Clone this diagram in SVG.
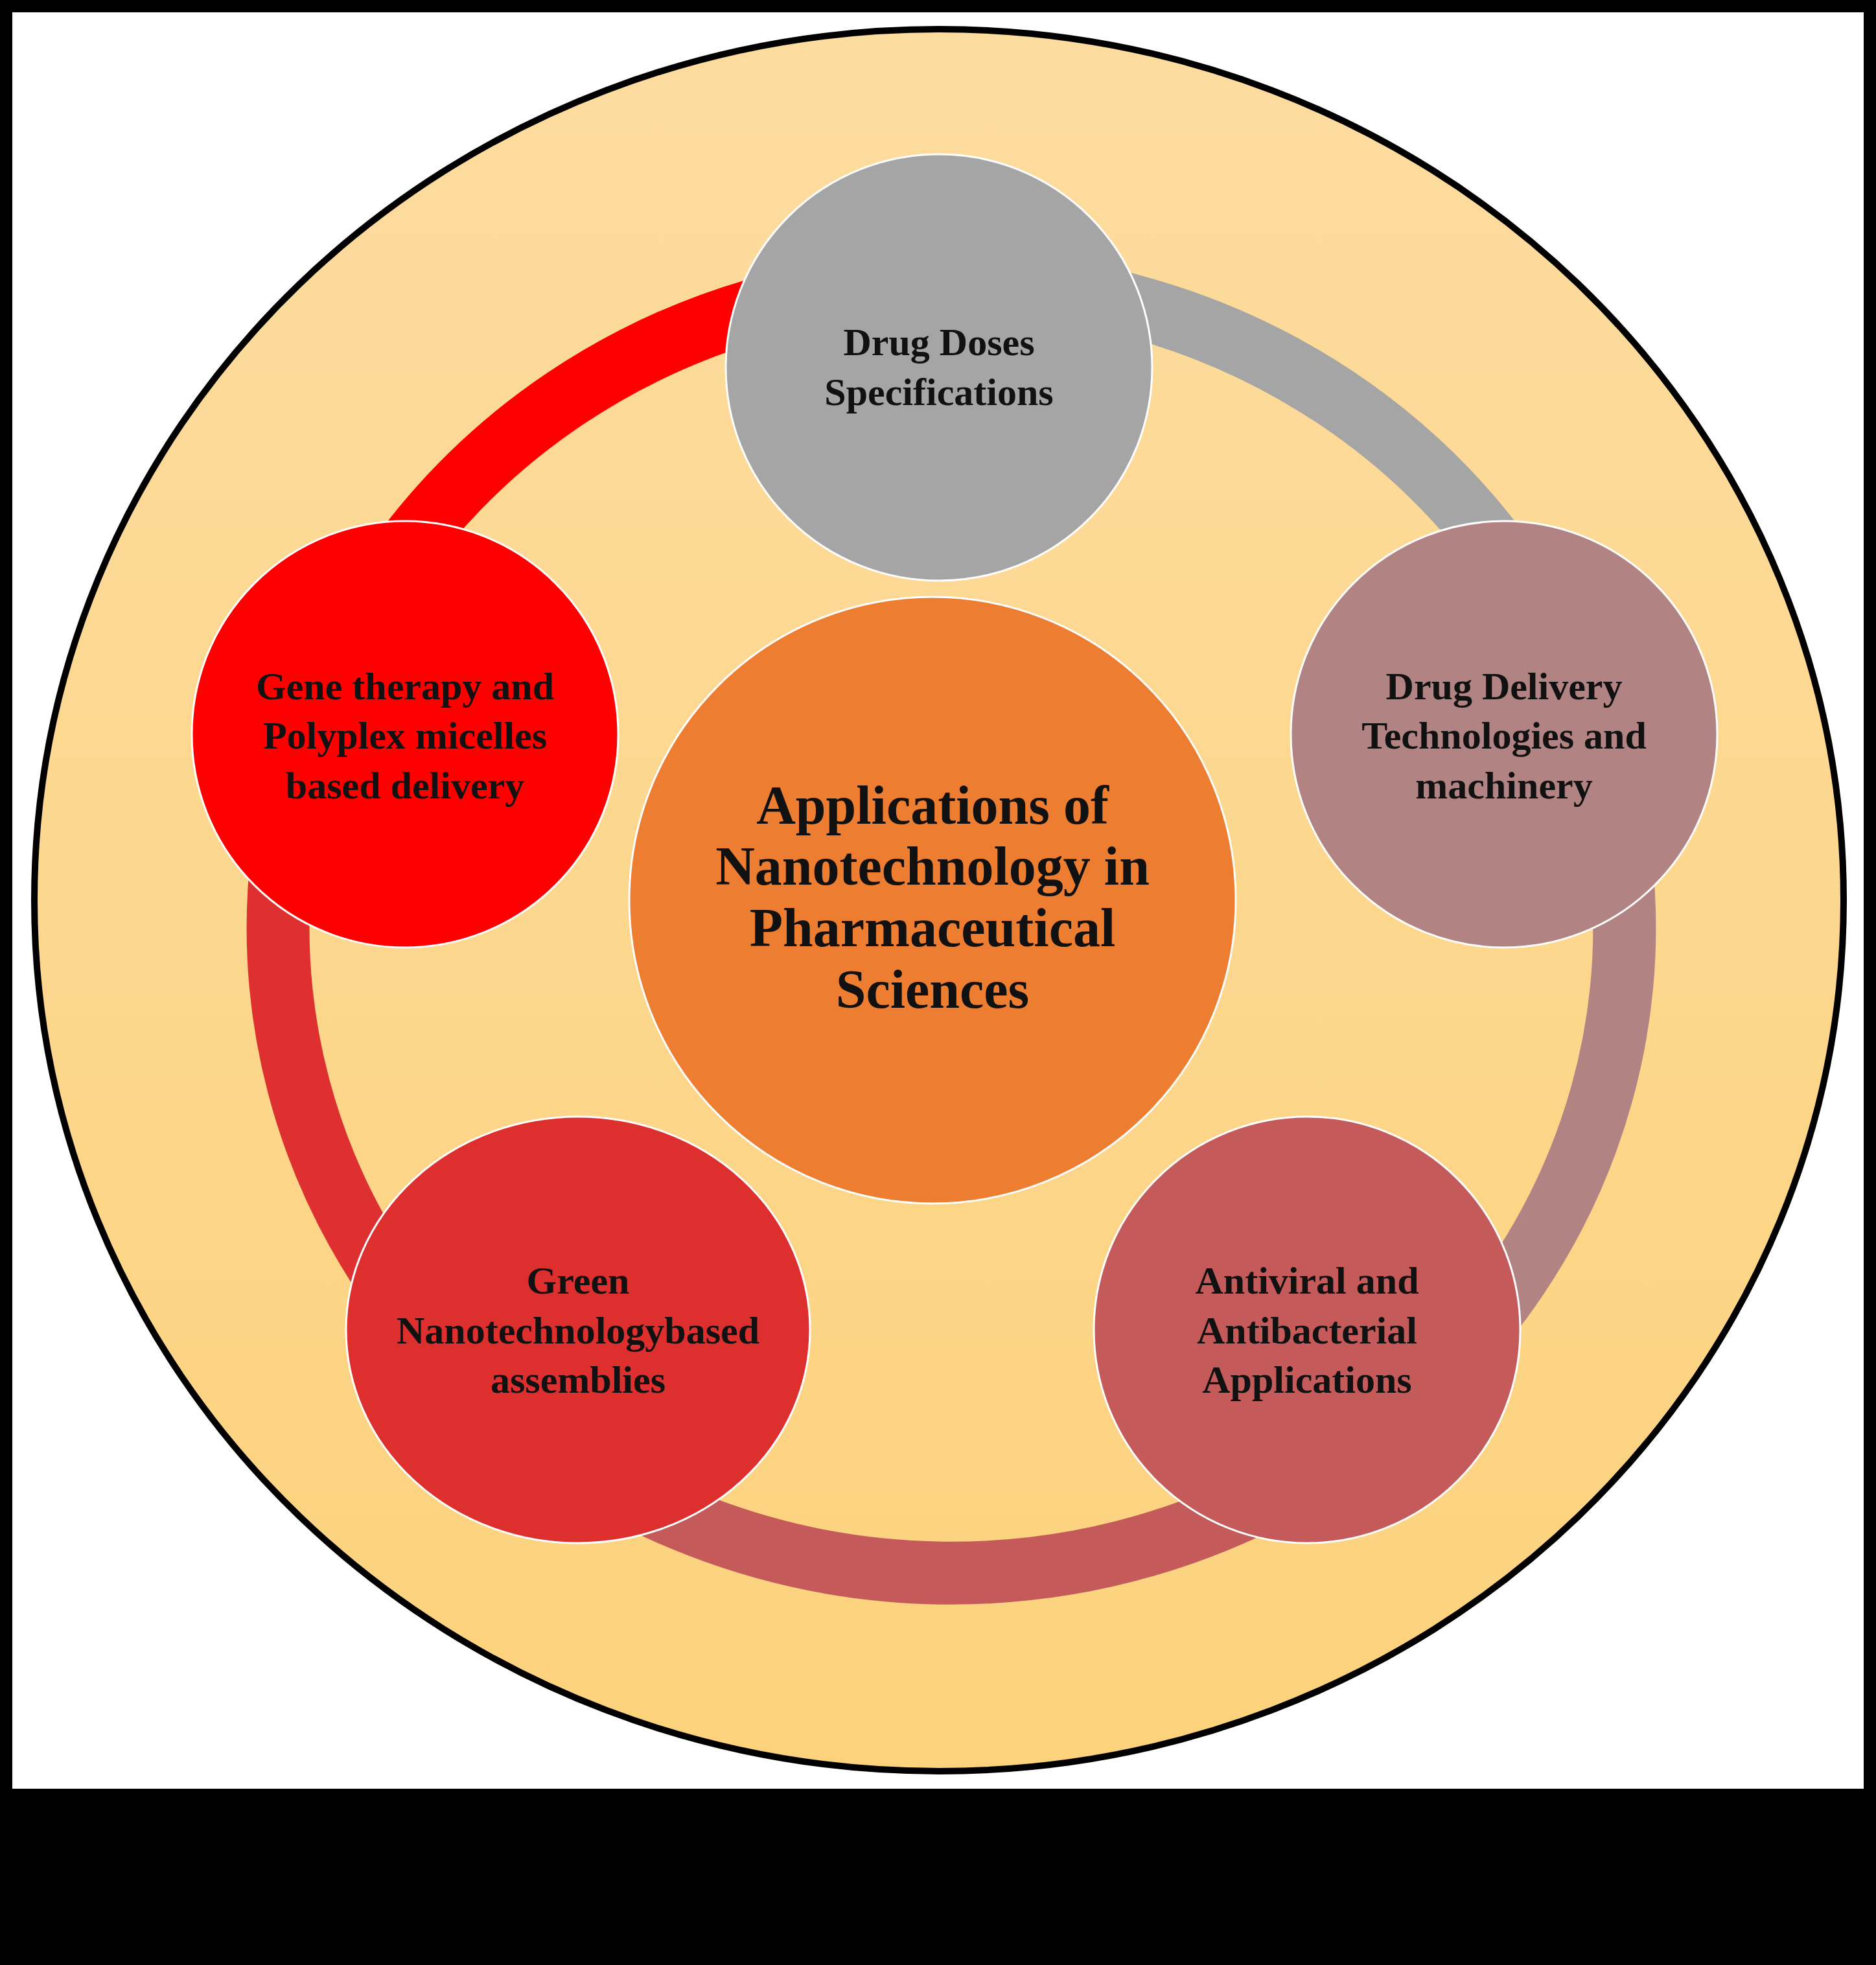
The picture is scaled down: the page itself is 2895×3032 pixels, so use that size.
<svg xmlns="http://www.w3.org/2000/svg" width="2895" height="3032" viewBox="0 0 2895 3032">
<defs>
<linearGradient id="bg" x1="0" y1="0" x2="0" y2="1"><stop offset="0" stop-color="#FDDCA0"/><stop offset="1" stop-color="#FCD27C"/></linearGradient>
<style>
.t{font-family:"Liberation Serif",serif;font-weight:bold;font-size:60px;fill:#111;text-anchor:middle}
.c{font-size:84px}
.arc{fill:none;stroke-width:97}
.n{stroke:#fff;stroke-width:3}
</style>
</defs>
<rect width="2895" height="3032" fill="#000"/>
<rect x="19" y="19" width="2857" height="2741" fill="#fff"/>
<ellipse cx="1449" cy="1389" rx="1396" ry="1344" fill="url(#bg)" stroke="#000" stroke-width="10"/>
<g id="connectors">
<path class="arc" stroke="#A5A5A5" d="M1468 435 A1039 996 0 0 1 2444 1090"/>
<path class="arc" stroke="#B28383" d="M2444 1090 A1039 996 0 0 1 2136 2194"/>
<path class="arc" stroke="#C55A5A" d="M2136 2194 A1039 996 0 0 1 778 2176"/>
<path class="arc" stroke="#DE3030" d="M778 2176 A1039 996 0 0 1 492 1090"/>
<path class="arc" stroke="#FF0000" d="M492 1090 A1039 996 0 0 1 1468 435"/>
</g>
<g id="center"><circle class="n" cx="1439" cy="1389" r="468" fill="#ED7D31"/>
<text class="t c" x="1439" y="1271">Applications of</text><text class="t c" x="1439" y="1365">Nanotechnology in</text><text class="t c" x="1439" y="1460">Pharmaceutical</text><text class="t c" x="1439" y="1555">Sciences</text></g>
<g id="n1"><circle class="n" cx="1449" cy="567" r="329" fill="#A5A5A5"/>
<text class="t" x="1449" y="548">Drug Doses</text><text class="t" x="1449" y="625">Specifications</text></g>
<g id="n2"><circle class="n" cx="2321" cy="1133" r="329" fill="#B28383"/>
<text class="t" x="2321" y="1079">Drug Delivery</text><text class="t" x="2321" y="1155">Technologies and</text><text class="t" x="2321" y="1232">machinery</text></g>
<g id="n3"><circle class="n" cx="2017" cy="2052" r="329" fill="#C55A5A"/>
<text class="t" x="2017" y="1996">Antiviral and</text><text class="t" x="2017" y="2073">Antibacterial</text><text class="t" x="2017" y="2149">Applications</text></g>
<g id="n4"><ellipse class="n" cx="892" cy="2052" rx="358" ry="329" fill="#DE2F2F"/>
<text class="t" x="892" y="1996">Green</text><text class="t" x="892" y="2073">Nanotechnologybased</text><text class="t" x="892" y="2149">assemblies</text></g>
<g id="n5"><circle class="n" cx="625" cy="1133" r="329" fill="#FF0000"/>
<text class="t" x="625" y="1079">Gene therapy and</text><text class="t" x="625" y="1155">Polyplex micelles</text><text class="t" x="625" y="1232">based delivery</text></g>
</svg>
